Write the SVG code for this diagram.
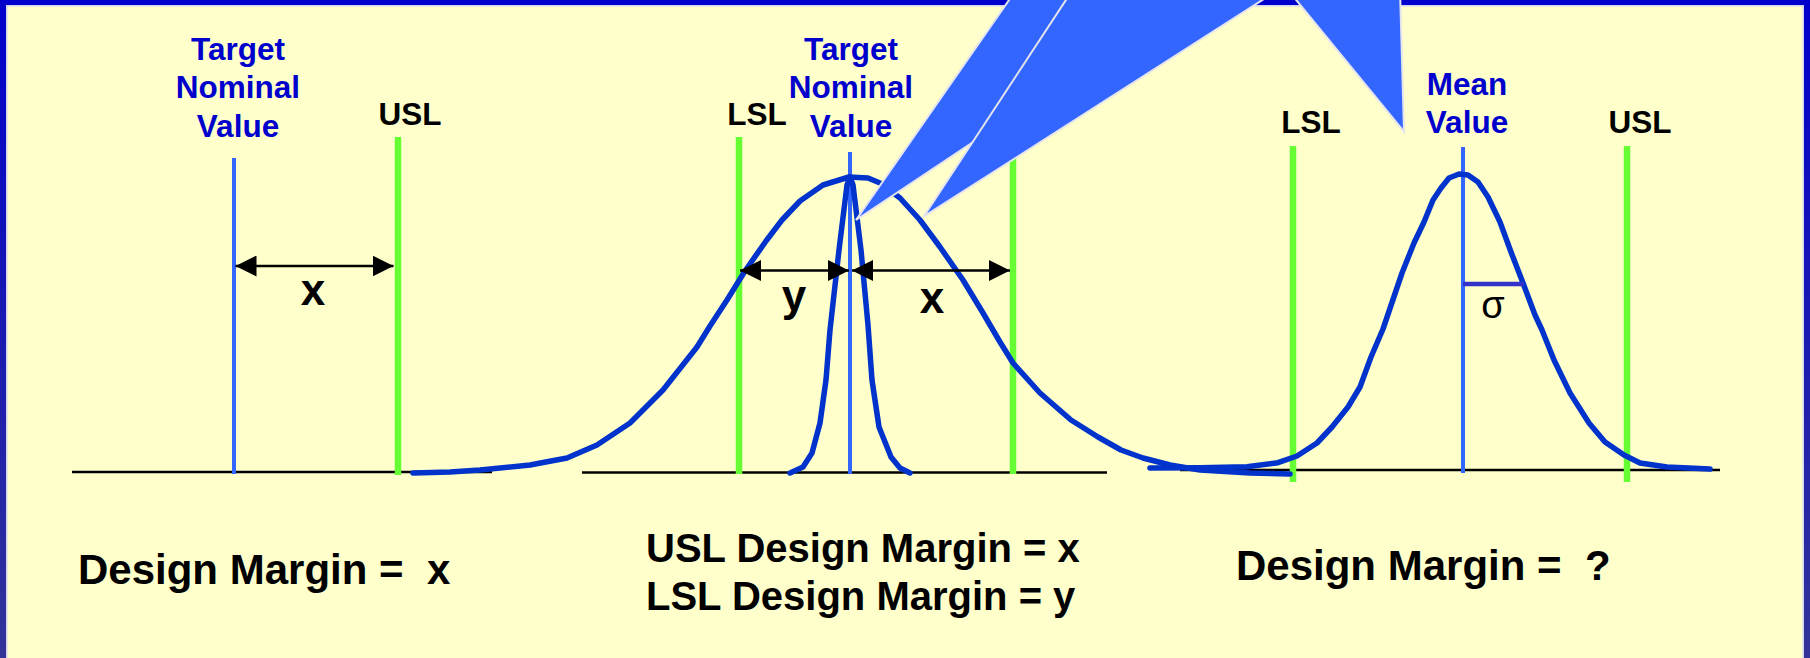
<svg xmlns="http://www.w3.org/2000/svg" width="1810" height="658" viewBox="0 0 1810 658">
<defs>
<linearGradient id="bord" x1="0" y1="0" x2="0" y2="1">
<stop offset="0" stop-color="#0000cc"/>
<stop offset="1" stop-color="#333399"/>
</linearGradient>
<marker id="ah" viewBox="0 0 10 10" refX="10" refY="5" markerUnits="userSpaceOnUse" markerWidth="21" markerHeight="21" orient="auto-start-reverse">
<path d="M0,0 L10,5 L0,10 z" fill="#000"/>
</marker>
<style>
.lbl{font-family:"Liberation Sans",Arial,sans-serif;font-weight:bold;font-size:31.5px;text-anchor:middle}
.blue{fill:#0000cc}
.blk{fill:#000}
.big{font-family:"Liberation Sans",Arial,sans-serif;font-weight:bold;fill:#000}
.var{font-family:"Liberation Sans",Arial,sans-serif;font-weight:bold;font-size:44px;text-anchor:middle;fill:#000}
.tgt{stroke:#3366ff;stroke-width:4}
.spec{stroke:#66ff33;stroke-width:6.5}
.base{stroke:#000;stroke-width:2.4}
.curve{fill:none;stroke:#0033cc;stroke-width:5.5;stroke-linejoin:round;stroke-linecap:round}
.dim{stroke:#000;stroke-width:2.6;marker-start:url(#ah);marker-end:url(#ah)}
.call{fill:#3366ff;stroke:#e4e4ec;stroke-width:2;stroke-linejoin:miter}
</style>
</defs>
<rect x="0" y="0" width="1810" height="658" fill="#ffffcc"/>
<g id="frame">
<rect x="0" y="0" width="1810" height="5" fill="#0000cc"/>
<rect x="6" y="5" width="1797" height="1.5" fill="#d4d4ee"/>
<rect x="0" y="0" width="6" height="658" fill="url(#bord)"/>
<rect x="6" y="5" width="1.5" height="653" fill="#d4d4ee"/>
<rect x="1804" y="0" width="6" height="658" fill="url(#bord)"/>
<rect x="1802.5" y="5" width="1.5" height="653" fill="#d4d4ee"/>
</g>
<g id="panel-left">
<line class="base" x1="72" y1="472" x2="492" y2="472"/>
<line class="tgt" x1="234" y1="158" x2="234" y2="474"/>
<line class="spec" x1="398" y1="137" x2="398" y2="475"/>
<text class="lbl blue"><tspan x="238" y="60">Target</tspan><tspan x="238" y="98">Nominal</tspan><tspan x="238" y="137">Value</tspan></text>
<text class="lbl blk" x="410" y="125">USL</text>
<text class="var" x="313" y="305">x</text>
<text class="big" x="78" y="584" font-size="42" xml:space="preserve">Design Margin =  x</text>
</g>
<g id="panel-middle">
<line class="base" x1="582" y1="472.5" x2="1107" y2="472.5"/>
<line class="spec" x1="739" y1="137" x2="739" y2="474"/>
<line class="tgt" x1="850" y1="152" x2="850" y2="474"/>
<line class="spec" x1="1013" y1="137" x2="1013" y2="474"/>
<text class="lbl blk" x="757" y="125">LSL</text>
<text class="lbl blue"><tspan x="851" y="60">Target</tspan><tspan x="851" y="98">Nominal</tspan><tspan x="851" y="137">Value</tspan></text>
<text class="var" x="794" y="311">y</text>
<text class="var" x="932" y="313">x</text>
<text class="big" font-size="40"><tspan x="646" y="562">USL Design Margin = x</tspan><tspan x="646" y="610">LSL Design Margin = y</tspan></text>
</g>
<g id="panel-right">
<line class="base" x1="1180" y1="470" x2="1720" y2="470"/>
<line class="spec" x1="1293" y1="146" x2="1293" y2="482"/>
<line class="tgt" x1="1463" y1="147" x2="1463" y2="473"/>
<line class="spec" x1="1627" y1="146" x2="1627" y2="482"/>
<text class="lbl blk" x="1311" y="133">LSL</text>
<text class="lbl blue"><tspan x="1467" y="95">Mean</tspan><tspan x="1467" y="133">Value</tspan></text>
<text class="lbl blk" x="1640" y="133">USL</text>
<text x="1493" y="318" font-family="'Liberation Sans',Arial,sans-serif" font-size="38" text-anchor="middle" fill="#000">σ</text>
<text class="big" x="1236" y="580" font-size="42" xml:space="preserve">Design Margin =  ?</text>
</g>
<g id="curves">
<polyline id="wide-dist" class="curve" points="413,473 450,472 480,470 530,465 567,458 597,445 630,423 663,390 697,347 710,326 727,300 745,271 766,241 782,220 800,201 823,185 849,177 868,178 880,183 900,198 920,220 940,247 963,280 983,313 1000,342 1013,363 1040,393 1071,420 1098,437 1121,450 1143,458 1170,465 1200,470 1250,473 1290,474"/>
<polyline id="narrow-dist" class="curve" points="790,473 803,467 812,453 820,423 826,380 830,330 839,250 847,185 850,177 853,185 861,250 868,325 872,380 879,427 891,457 900,468 910,473"/>
<polyline id="mean-dist" class="curve" points="1150,468 1200,467.7 1247,466.7 1278,462.7 1297,456 1317,443 1332,427 1348,407 1360,387 1371,357 1383,329 1402,273 1414,243 1424,222 1433,200 1441,188 1449,178 1459,174 1468,175 1478,182 1488,197 1500,222 1511,252 1523,283 1535,315 1542,330 1554,360 1570,393 1589,423 1605,442 1624,455 1640,463 1667,467 1710,469"/>
<line id="sigma-bar" x1="1463" y1="284" x2="1524" y2="284" stroke="#3333cc" stroke-width="4.5"/>
</g>
<g id="connectors">
<line class="dim" x1="235.5" y1="266" x2="393.5" y2="266"/>
<line class="dim" x1="740" y1="270.5" x2="849" y2="270.5"/>
<line class="dim" x1="852" y1="270.5" x2="1010" y2="270.5"/>
</g>
<g id="callouts">
<polygon class="call" points="1016,-10 856,220 1202,-10"/>
<polygon class="call" points="1072.5,-10 923.6,216.7 1278,-10"/>
<polygon class="call" points="1288,-10 1404,131.7 1400,-10"/>
</g>
</svg>
